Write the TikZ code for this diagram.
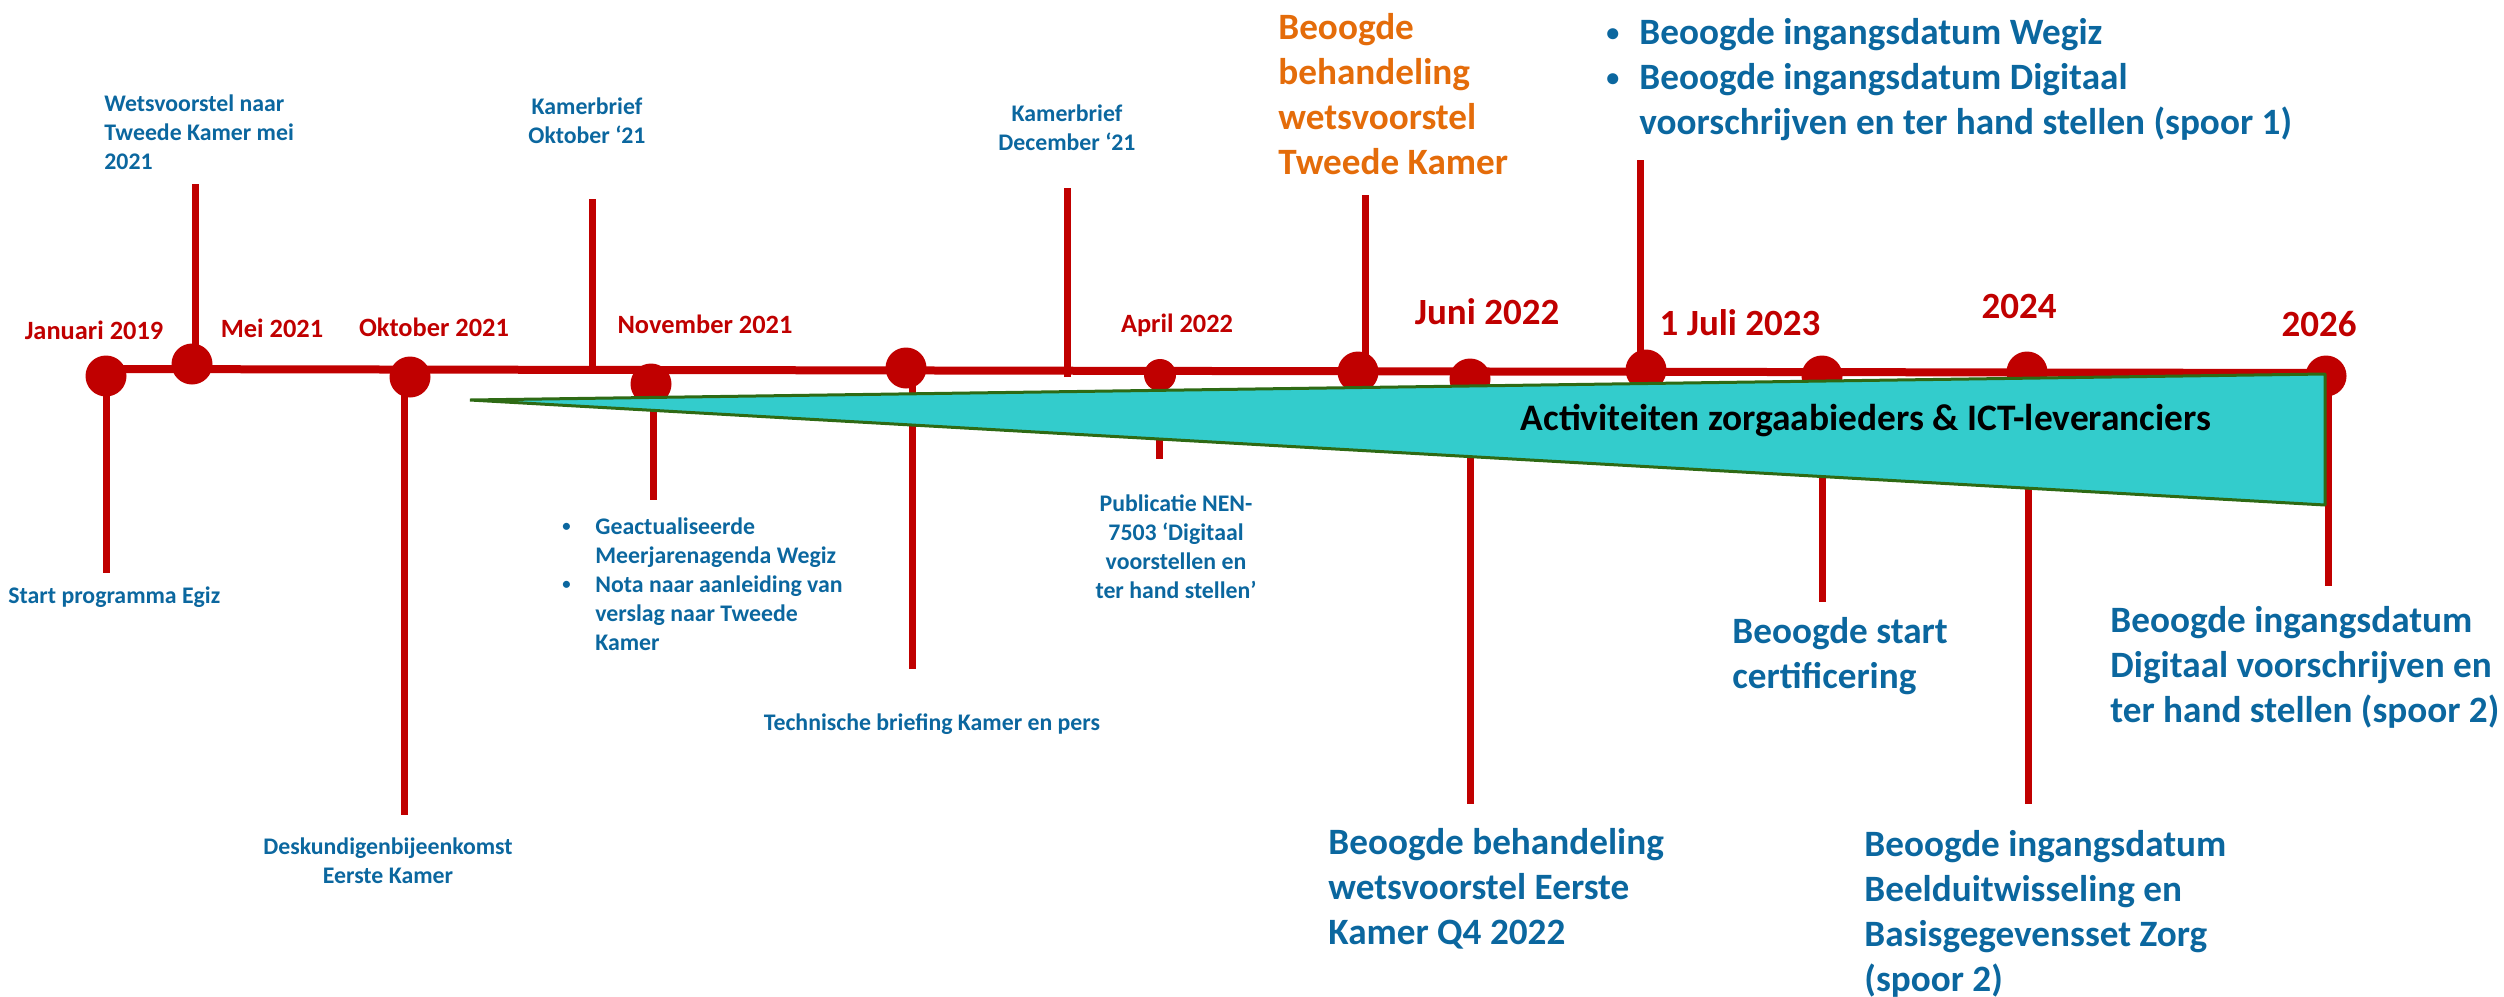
\documentclass[tikz,border=0pt]{standalone}
\usepackage{fontspec}
\setmainfont{Carlito}
\definecolor{tlred}{HTML}{C00000}
\definecolor{tlblue}{HTML}{0B679F}
\definecolor{tlorange}{HTML}{E46C0A}
\definecolor{tlcyan}{HTML}{33CCCC}
\definecolor{tlgreen}{HTML}{2E6A14}
\newcommand{\bul}{\makebox[16.5pt][l]{\raisebox{0.09em}{\scalebox{0.7}{\textbullet}}}}
\newcommand{\ind}{\hspace*{16.5pt}}

\begin{document}
\begin{tikzpicture}
	[x=0.5pt, y=-0.5pt,
	axis/.style = {tlred, line width=4pt},
	stem/.style = {tlred, line width=3.5pt},
	dot/.style = {circle, fill=tlred, inner sep=0pt, minimum size=20.5pt},
	band/.style = {fill=tlcyan, draw=tlgreen, line width=1.5pt, line join=bevel},
	small/.style = {tlblue, inner sep=0pt, font=\fontsize{11.9}{14.5}\selectfont\bfseries},
	date/.style = {tlred, inner sep=0pt, font=\fontsize{13.2}{15}\selectfont\bfseries},
	bigdate/.style = {tlred, inner sep=0pt, font=\fontsize{18.5}{22.5}\selectfont\bfseries},
	big/.style = {tlblue, inner sep=0pt, font=\fontsize{18.6}{22.5}\selectfont\bfseries}]
	\useasboundingbox (0,0) rectangle (2504,996);
	\node[dot] (jan19) at (106,376) {};
	\node[dot] (mei21) at (192,364) {};
	\node[dot] (okt21) at (410,377) {};
	\node[dot] (nov21) at (651,384) {};
	\node[dot] (tb) at (906,368) {};
	\node[dot, minimum size=16pt] (apr22) at (1160,375) {};
	\node[dot] (tk) at (1358,372) {};
	\node[dot] (jun22) at (1470,379) {};
	\node[dot] (jul23) at (1646,370) {};
	\node[dot] (cert) at (1822,376) {};
	\node[dot] (y24) at (2027,372) {};
	\node[dot] (y26) at (2326,376) {};
	\coordinate (a0) at (106,369);
	\coordinate (a1) at (2326,373);
	\draw[axis] (a0) -- (a1);
	\coordinate (mei21top) at (195,184);
	\coordinate (kbo) at (592,370);
	\coordinate (kbotop) at (592,199);
	\coordinate (kbd) at (1067,377);
	\coordinate (kbdtop) at (1067,188);
	\coordinate (tktop) at (1365,195);
	\coordinate (jul23top) at (1640,160);
	\draw[stem] (mei21top |- mei21) -- (mei21top);
	\draw[stem] (kbo) -- (kbotop);
	\draw[stem] (kbd) -- (kbdtop);
	\draw[stem] (tktop |- tk) -- (tktop);
	\draw[stem] (jul23top |- jul23) -- (jul23top);
	\coordinate (jan19end) at (106,573);
	\coordinate (okt21end) at (404,815);
	\coordinate (nov21end) at (653,500);
	\coordinate (tbend) at (912,669);
	\coordinate (apr22end) at (1159,459);
	\coordinate (jun22end) at (1470,804);
	\coordinate (certend) at (1822,602);
	\coordinate (y24end) at (2028,804);
	\coordinate (y26end) at (2328,586);
	\draw[stem] (jan19end |- jan19) -- (jan19end);
	\draw[stem] (okt21end |- okt21) -- (okt21end);
	\draw[stem] (nov21end |- nov21) -- (nov21end);
	\draw[stem] (tbend |- tb) -- (tbend);
	\draw[stem] (apr22end |- apr22) -- (apr22end);
	\draw[stem] (jun22end |- jun22) -- (jun22end);
	\draw[stem] (certend |- cert) -- (certend);
	\draw[stem] (y24end |- y24) -- (y24end);
	\draw[stem] (y26end |- y26) -- (y26end);
	\draw[band] (470,400) -- (2325,374) -- (2325,505) -- cycle;
	\node[inner sep=0pt, font=\fontsize{18.7}{22}\selectfont\bfseries] (act) at (1866,421) {Activiteiten zorgaabieders \& ICT-leveranciers};
	\node[date] (ljan19) at (94,330) {Januari 2019};
	\node[date] (lmei21) at (272,328) {Mei 2021};
	\node[date] (lokt21) at (434,327) {Oktober 2021};
	\node[date] (lnov21) at (705,324) {November 2021};
	\node[date] (lapr22) at (1177,325) {April 2022};
	\node[bigdate] (ljun22) at (1487,312) {Juni 2022};
	\node[bigdate] (ljul23) at (1740,323) {1 Juli 2023};
	\node[bigdate] (ly24) at (2019,306) {2024};
	\node[bigdate] (ly26) at (2319,324) {2026};
	\node[small, anchor=north west, align=left] (wets) at (104,94) {Wetsvoorstel naar\\Tweede Kamer mei\\2021};
	\node[small, anchor=north, align=center] (kbolab) at (587,97) {Kamerbrief\\Oktober ‘21};
	\node[small, anchor=north, align=center] (kbdlab) at (1067,104) {Kamerbrief\\December ‘21};
	\node[small, anchor=west] (egiz) at (8,597) {Start programma Egiz};
	\node[small, anchor=north, align=center] (desk) at (388,837) {Deskundigenbijeenkomst\\Eerste Kamer};
	\node[small, anchor=north west, align=left] (meer) at (562,517) {\bul Geactualiseerde\\\ind Meerjarenagenda Wegiz\\\bul Nota naar aanleiding van\\\ind verslag naar Tweede\\\ind Kamer};
	\node[small] (tech) at (932,724) {Technische briefing Kamer en pers};
	\node[small, anchor=north, align=center] (nen) at (1176,494) {Publicatie NEN-\\7503 ‘Digitaal\\voorstellen en\\ter hand stellen’};
	\node[big, tlorange, anchor=north west, align=left] (tklab) at (1278,13) {Beoogde\\behandeling\\wetsvoorstel\\Tweede Kamer};
	\node[big, anchor=north west, align=left] (wegiz) at (1606,18) {\bul Beoogde ingangsdatum Wegiz\\\bul Beoogde ingangsdatum Digitaal\\\ind voorschrijven en ter hand stellen (spoor 1)};
	\node[big, anchor=north west, align=left] (certlab) at (1732,617) {Beoogde start\\certificering};
	\node[big, anchor=north west, align=left] (sp2) at (2110,606) {Beoogde ingangsdatum\\Digitaal voorschrijven en\\ter hand stellen (spoor 2)};
	\node[big, anchor=north west, align=left] (ek) at (1328,828) {Beoogde behandeling\\wetsvoorstel Eerste\\Kamer Q4 2022};
	\node[big, anchor=north west, align=left] (beeld) at (1864,830) {Beoogde ingangsdatum\\Beelduitwisseling en\\Basisgegevensset Zorg\\(spoor 2)};
\end{tikzpicture}
\end{document}
